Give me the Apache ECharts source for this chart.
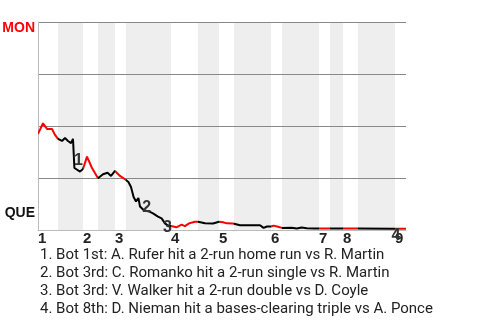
<!DOCTYPE html>
<html>
<head>
<meta charset="utf-8">
<script src="https://cdn.jsdelivr.net/npm/echarts@6/dist/echarts.min.js"></script>
<style>
  html, body { margin: 0; padding: 0; background: #fff; }
  #chart { width: 480px; height: 320px; }
</style>
</head>
<body>
<div id="chart"></div>
<script>
// play sequence (x) and MON win probability in % (y)
const playIndex = [0, 1.25, 2.25, 3.5, 4.25, 5, 6, 6.75, 7.5, 8.25, 8.5, 8.75, 9.1, 10.5, 11.25,
  12.25, 13.5, 15, 16.25, 17.4, 18.25, 19.25, 20.5, 21.75, 22.6, 23.25, 23.9, 24.5, 25.1, 25.5,
  26.4, 28, 28.75, 30, 30.9, 31.75, 32.6, 33.25, 34.6, 35.9, 36.75, 37.75, 39.25, 40, 41.75,
  43.75, 45.25, 46.25, 47.2, 48.75, 50.5, 55.5, 56.4, 57.25, 58.25, 58.9, 60, 61, 63.4, 64.7,
  65.9, 67.2, 69.25, 70.25, 76.25, 80, 88.5, 92]
const monWinPct = [46.2, 51.3, 48.6, 48.6, 45.7, 43.8, 42.8, 44.2, 42.8, 41.8, 42.5, 43.8, 29.8, 28.1, 29.3,
  35.3, 29.8, 24.9, 26.8, 27.5, 26.0, 28.4, 26.0, 24.4, 23.1, 20.7, 15.9, 13.7, 15.4, 11.3,
  9.6, 8.7, 8.0, 6.4, 5.6, 3.2, 1.9, 1.9, 1.3, 2.6, 1.9, 3.2, 4.0, 4.0, 3.2,
  3.1, 4.0, 3.7, 3.2, 3.1, 2.3, 2.3, 1.0, 1.7, 1.7, 2.1, 1.6, 1.0, 1.1, 0.7,
  1.2, 0.8, 0.7, 0.7, 0.7, 0.7, 0.6, 0.6]

// half-inning boundaries (play index): top halves red, bottom halves black + shaded
const halfStarts = [0, 5, 11.25, 15, 19.25, 22, 33.25, 40, 45.25, 49, 58.25, 61, 70.25, 73, 76.25, 80, 89.25, 92]
const inningStarts = [0, 11.25, 19.25, 33.25, 45.25, 58.25, 70.25, 76.25, 89.25]
const inningLabels = ['1', '2', '3', '4', '5', '6', '7', '8', '9']

// key plays: index into the arrays above
const eventPoints = [12, 30, 36, 66]
const eventLabels = ['1', '2', '3', '4']
const eventTexts = [
  '1. Bot 1st: A. Rufer hit a 2-run home run vs R. Martin',
  '2. Bot 3rd: C. Romanko hit a 2-run single vs R. Martin',
  '3. Bot 3rd: V. Walker hit a 2-run double vs D. Coyle',
  '4. Bot 8th: D. Nieman hit a bases-clearing triple vs A. Ponce'
]

const pieces = []
const bands = []
for (let i = 0; i < halfStarts.length - 1; i++) {
  const top = i % 2 === 0
  pieces.push({ gte: halfStarts[i], lt: i === halfStarts.length - 2 ? 1000 : halfStarts[i + 1], color: top ? '#ff0000' : '#000000' })
  if (!top) bands.push([{ xAxis: halfStarts[i] }, { xAxis: halfStarts[i + 1] }])
}
const labelOffsets = [[4, -7], [3, -2], [-1, 2], [4, 7]]

const mychart = echarts.init(document.getElementById('chart'))
mychart.setOption({
  animation: false,
  title: {
    text: eventTexts.join('\n'),
    left: 40,
    top: 246,
    padding: 0,
    textStyle: { fontFamily: 'Roboto', fontSize: 15, fontWeight: 'normal', color: '#222', lineHeight: 18 }
  },
  grid: { left: 38, right: 74, top: 22, bottom: 90, outerBoundsMode: 'none', containLabel: false },
  visualMap: {
    show: false,
    type: 'piecewise',
    dimension: 0,
    seriesIndex: 0,
    pieces: pieces
  },
  xAxis: {
    type: 'value',
    min: 0,
    max: 92,
    axisLine: { lineStyle: { color: '#bbb', width: 1 } },
    axisTick: { show: false },
    splitLine: { show: false },
    axisLabel: {
      customValues: inningStarts,
      formatter: v => inningLabels[inningStarts.indexOf(v)],
      align: 'left',
      margin: 1,
      fontFamily: 'Liberation Sans',
      fontWeight: 'bold',
      fontSize: 15,
      color: '#222'
    }
  },
  yAxis: {
    type: 'value',
    min: 0,
    max: 100,
    interval: 25,
    axisLine: { show: true, lineStyle: { color: '#bbb', width: 1 } },
    axisTick: { show: false },
    splitLine: { lineStyle: { color: ['#bbb', '#888', '#888', '#888', '#888'], width: 1 } },
    axisLabel: {
      margin: 3,
      formatter: v => (v === 100 ? '{mon|MON}' : v === 0 ? '{que|QUE}' : ''),
      rich: {
        mon: { color: '#ff0000', fontFamily: 'Liberation Sans', fontWeight: 'bold', fontSize: 14, padding: [12, 0, 0, 0] },
        que: { color: '#111', fontFamily: 'Liberation Sans', fontWeight: 'bold', fontSize: 14, padding: [0, 0, 33, 0] }
      }
    }
  },
  series: [
    {
      type: 'line',
      data: playIndex.map((p, i) => [p, monWinPct[i]]),
      showSymbol: false,
      symbol: 'none',
      lineStyle: { width: 2 },
      z: 3,
      markArea: {
        z: -1,
        silent: true,
        itemStyle: { color: '#eeeeee' },
        label: { show: false },
        data: bands
      },
      markPoint: {
        symbolSize: 0,
        silent: true,
        label: {
          show: true,
          position: 'inside',
          fontFamily: 'Liberation Sans',
          fontWeight: 'bold',
          fontSize: 16,
          color: '#333'
        },
        data: eventPoints.map((idx, i) => ({
          coord: [playIndex[idx], monWinPct[idx]],
          value: eventLabels[i],
          label: { formatter: eventLabels[i], offset: labelOffsets[i] }
        }))
      }
    }
  ]
})
</script>
</body>
</html>
